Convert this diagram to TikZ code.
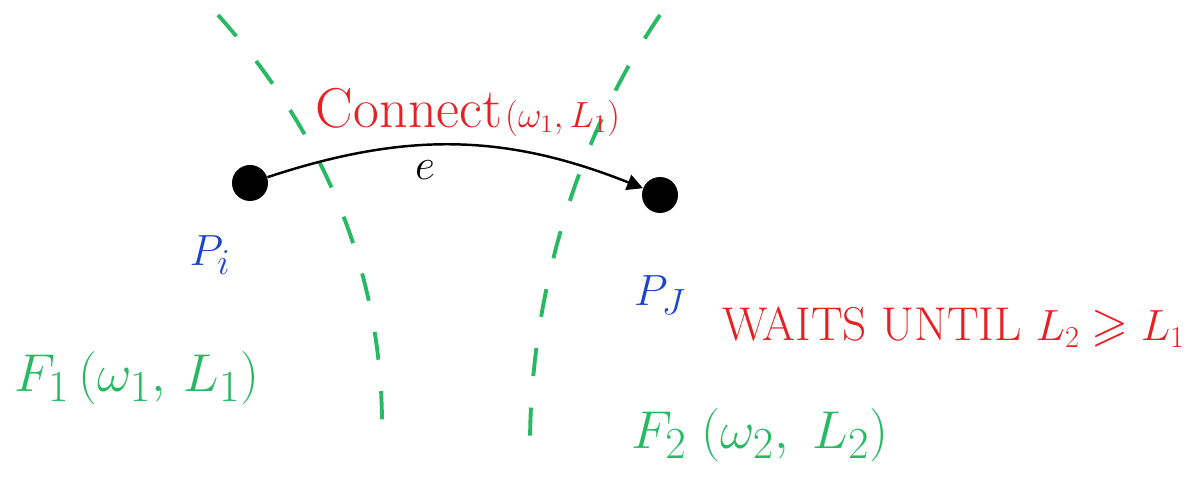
\documentclass[tikz,border=0pt]{standalone}
\usepackage{amsmath, amssymb}
\usepackage{graphicx}
\usepackage{tikz}
\usetikzlibrary{positioning, arrows.meta}
\usepackage{xcolor}

\definecolor{penred}{RGB}{232,32,36}
\definecolor{pengreen}{RGB}{40,185,100}
\definecolor{penblue}{RGB}{30,70,205}

\newcommand{\bigf}[1]{\scalebox{1.22}{#1}}

\begin{document}
\begin{tikzpicture}[
    x=0.02cm, y=-0.02cm,
    dot/.style={circle, fill=black, inner sep=0pt, minimum size=0.72cm},
    conn/.style={-{Triangle[length=9pt, width=9pt]}, line width=1.4pt, black},
    fline/.style={pengreen, line width=2.2pt, dash pattern=on 16pt off 18pt},
    pname/.style={text=penblue, font=\fontsize{28}{30}\selectfont},
    fname/.style={text=pengreen, font=\fontsize{30}{34}\selectfont},
    redlbl/.style={text=penred, font=\fontsize{27}{30}\selectfont}
]
\useasboundingbox (0,0) rectangle (1196,502);

% dashed fronts
\draw [fline] (218,15) .. controls (330,140) and (382,280) .. (382,425);
\draw [fline] (660,15) .. controls (575,140) and (530,300) .. (530,445);

% the two processes
\node (pi) [dot] at (250,183) {};
\node (pj) [dot] at (660,195) {};

\node (lpi) [pname] at (210,255) {$P_i$};
\node (lpj) [pname] at (660,295) {$P_J$};

% the edge
\draw [conn] (pi) to[bend left=20] (pj);
\node (le) [font=\fontsize{32}{34}\selectfont] at (425,170) {$e$};

\node (lconn) [text=penred] at (468,112) {{\fontsize{32}{34}\selectfont Connect}\,{\fontsize{22}{24}\selectfont$(\omega_1,L_1)$}};

\node (lwait) [redlbl, anchor=west] at (716,327) {WAITS UNTIL $L_2 \geqslant L_1$};

% fronts
\node (lf1) [fname] at (137,378) {\bigf{$F_1\,(\omega_1,\,L_1)$}};
\node (lf2) [fname] at (760,435) {\bigf{$F_2\;(\omega_2,\;L_2)$}};

\end{tikzpicture}
\end{document}
